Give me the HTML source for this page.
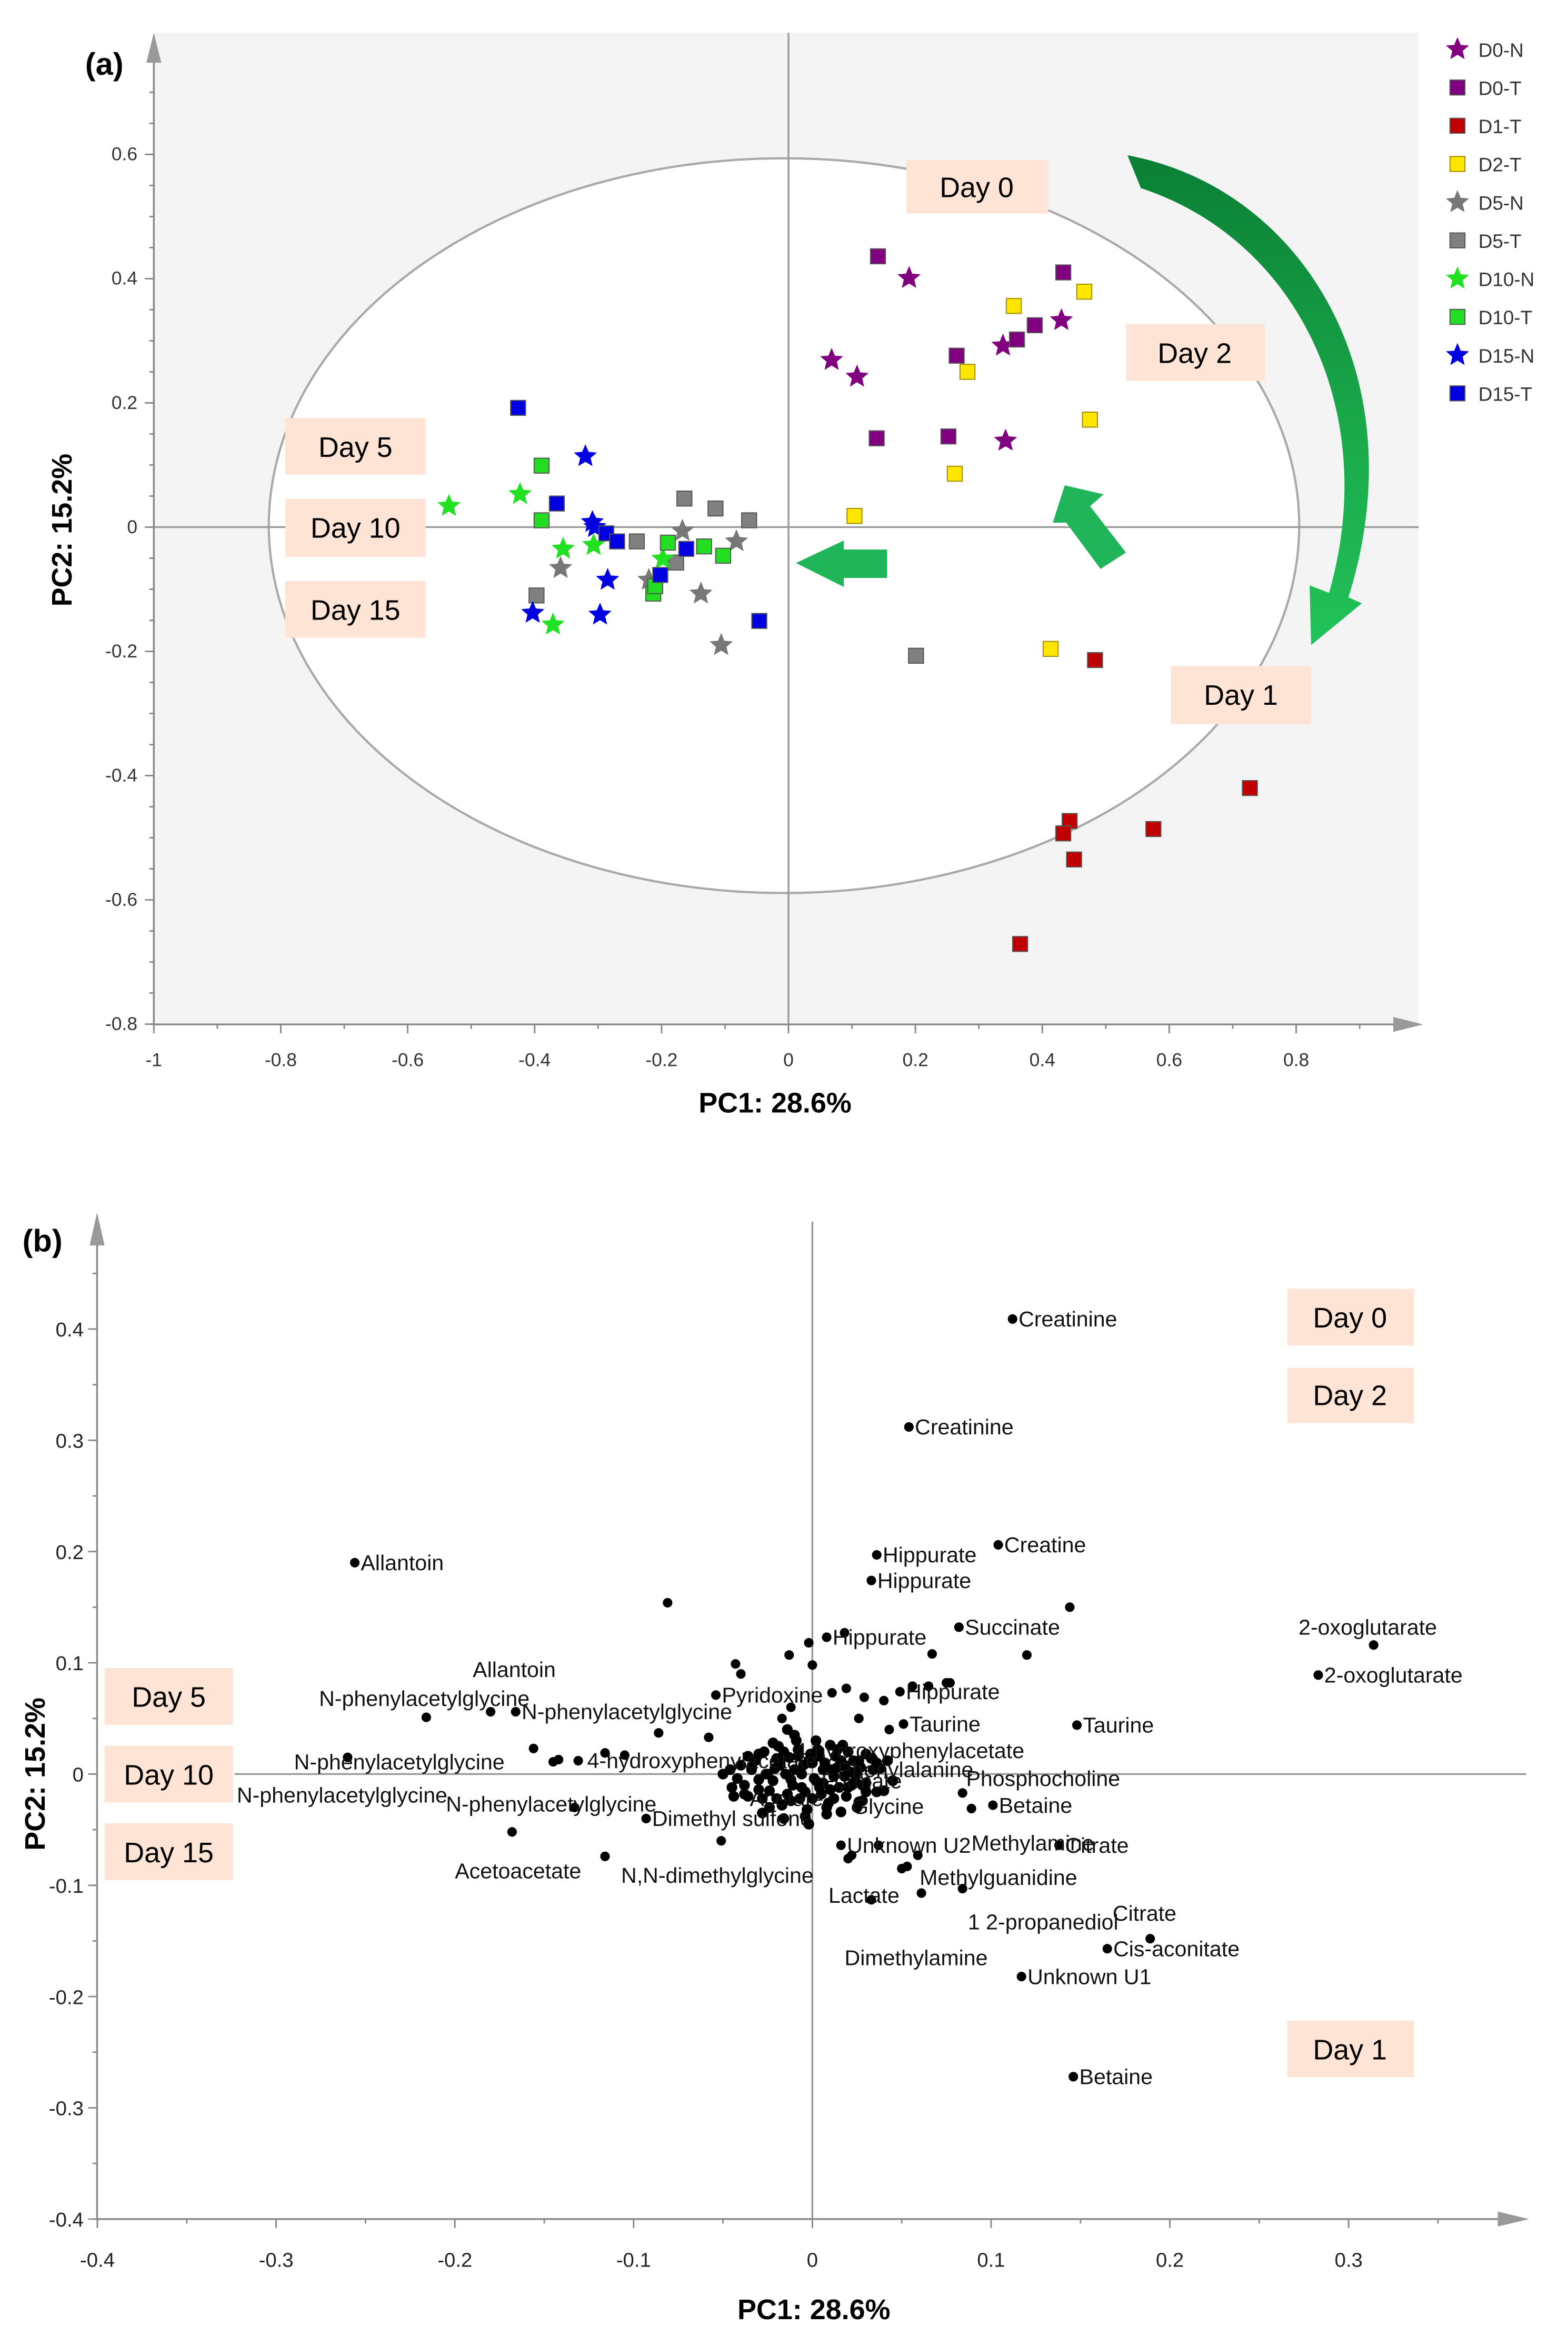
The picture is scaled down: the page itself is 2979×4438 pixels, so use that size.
<!DOCTYPE html>
<html><head><meta charset="utf-8"><style>
html,body{margin:0;padding:0;background:#fff}
svg{display:block}
text{font-family:"Liberation Sans",sans-serif}
</style></head><body>
<svg id="fig" xmlns="http://www.w3.org/2000/svg" width="2979" height="4438" viewBox="0 0 1050 1564.3">
<rect x="0" y="0" width="1050" height="1564.3" fill="#fff"/>
<g id="pa">
<rect x="103" y="22" width="847" height="664" fill="#f4f4f4"/>
<ellipse cx="525" cy="352" rx="345" ry="246" fill="#fff" stroke="#a9a9a9" stroke-width="1.5"/>
<g id="a-axes"></g>
<g id="a-pts"></g>
<g>
<rect x="607" y="107" width="95" height="36" fill="#fde4d5"/><text x="654" y="132" font-size="19" text-anchor="middle">Day 0</text>
<rect x="754" y="217" width="93" height="38" fill="#fde4d5"/><text x="800" y="243" font-size="19" text-anchor="middle">Day 2</text>
<rect x="784" y="446" width="94" height="39" fill="#fde4d5"/><text x="831" y="472" font-size="19" text-anchor="middle">Day 1</text>
<rect x="191" y="280" width="94" height="38" fill="#fde4d5"/><text x="238" y="306" font-size="19" text-anchor="middle">Day 5</text>
<rect x="191" y="334" width="94" height="39" fill="#fde4d5"/><text x="238" y="360" font-size="19" text-anchor="middle">Day 10</text>
<rect x="191" y="389" width="94" height="38" fill="#fde4d5"/><text x="238" y="415" font-size="19" text-anchor="middle">Day 15</text>
</g>
<defs><linearGradient id="cg" x1="0" y1="0" x2="0" y2="1"><stop offset="0" stop-color="#0a7f35"/><stop offset="0.55" stop-color="#1aa84a"/><stop offset="1" stop-color="#22c25a"/></linearGradient></defs>
<path fill="url(#cg)" d="M755,104 C870,125 950,250 903,400 L912,404 L878,432 L877,392 L890,397 C925,275 868,160 764,126 Z"/>
<polygon fill="#1fb558" points="533,377 565,362 565,368 594,368 594,387 565,387 565,393"/>
<polygon fill="#1fb558" points="713,325 739,331 730,339 754,370 737,381 714,350 705,350"/>
<text x="57" y="50" font-size="21" font-weight="bold">(a)</text>
<text x="519" y="745" font-size="19" font-weight="bold" text-anchor="middle">PC1: 28.6%</text>
<text x="0" y="0" font-size="19" font-weight="bold" text-anchor="middle" transform="translate(48,355) rotate(-90)">PC2: 15.2%</text>
<g id="legend"></g>
</g>
<g id="pb">
<g id="b-axes"></g>
<g id="b-pts"></g>
<g>
<rect x="862" y="863" width="85" height="38" fill="#fde4d5"/><text x="904" y="889" font-size="19" text-anchor="middle">Day 0</text>
<rect x="862" y="916" width="85" height="37" fill="#fde4d5"/><text x="904" y="941" font-size="19" text-anchor="middle">Day 2</text>
<rect x="862" y="1353" width="85" height="38" fill="#fde4d5"/><text x="904" y="1379" font-size="19" text-anchor="middle">Day 1</text>
<rect x="70" y="1117" width="86" height="38" fill="#fde4d5"/><text x="113" y="1143" font-size="19" text-anchor="middle">Day 5</text>
<rect x="70" y="1169" width="86" height="38" fill="#fde4d5"/><text x="113" y="1195" font-size="19" text-anchor="middle">Day 10</text>
<rect x="70" y="1221" width="86" height="38" fill="#fde4d5"/><text x="113" y="1247" font-size="19" text-anchor="middle">Day 15</text>
</g>
<text x="15" y="838" font-size="21" font-weight="bold">(b)</text>
<text x="545" y="1553" font-size="19" font-weight="bold" text-anchor="middle">PC1: 28.6%</text>
<text x="0" y="0" font-size="19" font-weight="bold" text-anchor="middle" transform="translate(30,1188) rotate(-90)">PC2: 15.2%</text>
</g>
</svg>
<script>
// ---------- Panel (a) data ----------
const groupNames = ["D0-N","D0-T","D1-T","D2-T","D5-N","D5-T","D10-N","D10-T","D15-N","D15-T"];
const groupColors = ["#800080","#800080","#c00000","#ffe600","#777777","#808080","#22e022","#22dd22","#0000e0","#0000e0"];
const groupShapes = ["star","square","square","square","star","square","star","square","star","square"];
const d0nX = [0.068,0.108,0.19,0.338,0.43,0.342];
const d0nY = [0.269,0.242,0.401,0.292,0.333,0.139];
const d0tX = [0.141,0.433,0.388,0.36,0.265,0.139,0.252];
const d0tY = [0.436,0.41,0.325,0.302,0.276,0.143,0.146];
const d1tX = [0.483,0.727,0.575,0.443,0.433,0.45,0.365];
const d1tY = [-0.214,-0.42,-0.486,-0.473,-0.493,-0.535,-0.671];
const d2tX = [0.355,0.466,0.282,0.475,0.262,0.104,0.413];
const d2tY = [0.356,0.379,0.25,0.173,0.086,0.018,-0.196];
const d5nX = [-0.167,-0.082,-0.138,-0.106,-0.359,-0.22];
const d5nY = [-0.006,-0.023,-0.107,-0.19,-0.066,-0.085];
const d5tX = [-0.164,-0.115,-0.062,-0.239,-0.177,-0.397,0.201];
const d5tY = [0.046,0.03,0.011,-0.023,-0.057,-0.11,-0.207];
const d10nX = [-0.535,-0.423,-0.355,-0.307,-0.371,-0.198];
const d10nY = [0.034,0.053,-0.035,-0.029,-0.157,-0.051];
const d10tX = [-0.389,-0.389,-0.19,-0.213,-0.21,-0.133,-0.103];
const d10tY = [0.099,0.011,-0.025,-0.107,-0.095,-0.031,-0.046];
const d15nX = [-0.32,-0.309,-0.285,-0.297,-0.403,-0.305];
const d15nY = [0.114,0.008,-0.085,-0.141,-0.138,0.0];
const d15tX = [-0.426,-0.365,-0.287,-0.27,-0.202,-0.161,-0.046];
const d15tY = [0.192,0.038,-0.01,-0.023,-0.077,-0.035,-0.151];
const aXTicks = [-1,-0.8,-0.6,-0.4,-0.2,0,0.2,0.4,0.6,0.8];
const aXTickLabels = ["-1","-0.8","-0.6","-0.4","-0.2","0","0.2","0.4","0.6","0.8"];
const aYTicks = [0.6,0.4,0.2,0,-0.2,-0.4,-0.6,-0.8];
const aYTickLabels = ["0.6","0.4","0.2","0","-0.2","-0.4","-0.6","-0.8"];

// ---------- Panel (b) data ----------
const labeledNames = ["Creatinine","Creatinine","Hippurate","Hippurate","Creatine","Succinate","Hippurate","2-oxoglutarate","Taurine","Hippurate","Taurine","Betaine","Citrate","Cis-aconitate","Unknown U1","Betaine","Allantoin","N-phenylacetylglycine","Dimethyl sulfone","Pyridoxine","Unknown U2"];
const labeledX = [0.112,0.054,0.036,0.033,0.104,0.082,0.008,0.283,0.148,0.049,0.051,0.101,0.138,0.165,0.117,0.146,-0.256,-0.166,-0.093,-0.054,0.016];
const labeledY = [0.409,0.312,0.197,0.174,0.206,0.132,0.123,0.089,0.044,0.074,0.045,-0.028,-0.064,-0.157,-0.182,-0.272,0.19,0.056,-0.04,0.071,-0.064];
const otherX = [0.314,0.189,-0.216,-0.26,0.144,0.12,-0.081,-0.18,-0.156,-0.133,-0.168,-0.116,-0.051,0.018,0.067,0.084,0.089,0.059,0.084,0.033,0.061,0.037,0.022,0.02,0.053,0.05,0.075,-0.145,-0.142,-0.131,-0.116,-0.105,-0.086,-0.058,-0.043,-0.04,-0.013,-0.002,0.0,-0.012,-0.017,0.011,0.019,0.029,0.04,0.056,0.065,0.077,0.026,0.043];
const otherY = [0.116,-0.148,0.051,0.015,0.15,0.107,0.154,0.056,0.023,-0.03,-0.052,-0.074,-0.06,0.127,0.108,-0.017,-0.031,-0.073,-0.103,-0.113,-0.107,-0.064,-0.073,-0.076,-0.083,-0.085,0.082,0.011,0.013,0.012,0.019,0.017,0.037,0.033,0.099,0.09,0.107,0.118,0.098,0.06,0.05,0.073,0.077,0.069,0.066,0.079,0.079,0.082,0.05,0.04];
const clusterX = [-0.05,-0.045,-0.04,-0.036,-0.032,-0.03,-0.027,-0.024,-0.021,-0.019,-0.017,-0.015,-0.013,-0.011,-0.009,-0.007,-0.005,-0.003,-0.001,0.001,0.003,0.005,0.007,0.009,0.011,0.013,0.015,0.017,0.019,0.021,0.023,0.025,0.027,0.03,0.033,0.036,-0.028,-0.022,-0.016,-0.01,-0.004,0.002,0.008,0.014,0.02,0.026,-0.034,-0.025,-0.018,-0.012,-0.006,0.0,0.006,0.012,0.018,0.024,0.03,-0.02,-0.008,0.004,0.016,0.028,-0.038,0.038,-0.014,0.01];
const clusterY = [0.0,-0.012,0.008,-0.02,0.012,-0.005,0.02,-0.015,0.005,0.025,-0.028,0.0,0.015,-0.01,0.03,-0.022,0.008,-0.032,0.018,-0.004,0.022,-0.018,0.01,-0.026,0.004,0.016,-0.012,0.026,-0.02,0.002,0.012,-0.03,0.006,-0.008,0.014,-0.016,-0.035,0.028,-0.04,0.035,-0.038,0.03,-0.036,0.022,0.02,-0.025,0.004,0.0,0.01,-0.005,0.0,0.01,-0.008,-0.002,0.008,0.0,0.018,-0.022,0.016,-0.012,-0.034,-0.01,-0.018,0.005,0.04,0.026];
const cluster2X = [-0.046,-0.042,-0.038,-0.034,-0.03,-0.026,-0.022,-0.018,-0.014,-0.01,-0.006,-0.002,0.002,0.006,0.01,0.014,0.018,0.022,0.026,0.03,0.034,-0.044,-0.036,-0.028,-0.02,-0.012,-0.004,0.004,0.012,0.02,0.028,0.036,-0.024,-0.016,-0.008,0.0,0.008,0.016,0.024,-0.03,-0.002,0.042,0.045,0.04];
const cluster2Y = [0.004,-0.004,-0.01,0.006,-0.014,0.0,-0.006,0.008,-0.018,0.004,-0.012,0.012,-0.006,0.004,-0.014,0.006,-0.002,-0.01,0.012,-0.016,0.004,-0.02,0.016,-0.022,0.014,-0.024,-0.016,0.016,-0.022,-0.012,-0.024,0.01,-0.03,0.02,0.022,-0.022,-0.03,0.012,-0.006,0.018,-0.045,0.012,-0.006,-0.015];
const freeLabels = ["Allantoin","N-phenylacetylglycine","N-phenylacetylglycine","N-phenylacetylglycine","N-phenylacetylglycine","Acetoacetate","N,N-dimethylglycine","4-hydroxyphenylacetate","4-hydroxyphenylacetate","Phenylalanine","Phosphocholine","Methylamine","Methylguanidine","1 2-propanediol","Lactate","Dimethylamine","Glycine","Acetate","Formate","2-oxoglutarate","Citrate"];
const freeX = [-0.19,-0.276,-0.29,-0.322,-0.205,-0.2,-0.107,-0.126,-0.01,0.014,0.086,0.089,0.06,0.087,0.009,0.018,0.022,-0.035,0.005,0.272,0.168];
const freeY = [0.094,0.068,0.011,-0.019,-0.027,-0.087,-0.091,0.012,0.021,0.004,-0.004,-0.062,-0.093,-0.133,-0.109,-0.165,-0.029,-0.022,-0.006,0.132,-0.125];
const bXTicks = [-0.4,-0.3,-0.2,-0.1,0,0.1,0.2,0.3];
const bXTickLabels = ["-0.4","-0.3","-0.2","-0.1","0","0.1","0.2","0.3"];
const bYTicks = [0.4,0.3,0.2,0.1,0,-0.1,-0.2,-0.3,-0.4];
const bYTickLabels = ["0.4","0.3","0.2","0.1","0","-0.1","-0.2","-0.3","-0.4"];

const NS = "http://www.w3.org/2000/svg";
function mk(tag, attrs, parent){const e=document.createElementNS(NS,tag);for(const k in attrs)e.setAttribute(k,attrs[k]);parent.appendChild(e);return e;}
const ax = v => 528 + v*425;
const ay = v => 353 - v*416;
const bx = v => 544 + v*1197;
const by = v => 1188 - v*745;

function starPts(cx,cy,r){let p=[];for(let i=0;i<10;i++){const a=-Math.PI/2+i*Math.PI/5;const rr=i%2?r*0.45:r;p.push((cx+rr*Math.cos(a)).toFixed(1)+","+(cy+rr*Math.sin(a)).toFixed(1));}return p.join(" ");}
function marker(shape,color,cx,cy,parent){
  let e;
  if(shape==="star"){e=mk("polygon",{points:starPts(cx,cy,7.5),fill:color,stroke:color,"stroke-width":0.5},parent);}
  else{const s=10;e=mk("rect",{x:cx-s/2,y:cy-s/2,width:s,height:s,fill:color,stroke:color==="#ffe600"?"#a08c00":"#555","stroke-width":0.7},parent);}
  return e;
}

const aAx=document.getElementById("a-axes");
mk("line",{x1:ax(0),y1:22,x2:ax(0),y2:686,stroke:"#999","stroke-width":1.2},aAx);
mk("line",{x1:103,y1:ay(0),x2:950,y2:ay(0),stroke:"#999","stroke-width":1.2},aAx);
mk("line",{x1:103,y1:40,x2:103,y2:686,stroke:"#888","stroke-width":1.2},aAx);
mk("polygon",{points:"98,42 103,22 108,42",fill:"#999"},aAx);
mk("line",{x1:103,y1:686,x2:935,y2:686,stroke:"#888","stroke-width":1.2},aAx);
mk("polygon",{points:"933,681 953,686 933,691",fill:"#999"},aAx);
for(let v=-0.8;v<=0.75;v+=0.05){const y=ay(v);mk("line",{x1:100,y1:y,x2:103,y2:y,stroke:"#888"},aAx);}
for(let v=-1;v<=0.95;v+=0.1){const x=ax(v);mk("line",{x1:x,y1:686,x2:x,y2:689,stroke:"#888"},aAx);}
aXTicks.forEach((v,i)=>{const x=ax(v);mk("line",{x1:x,y1:686,x2:x,y2:692,stroke:"#888"},aAx);const t=mk("text",{x:x,y:714,"font-size":12.5,fill:"#333","text-anchor":"middle"},aAx);t.textContent=aXTickLabels[i];

});
aYTicks.forEach((v,i)=>{const y=ay(v);mk("line",{x1:97,y1:y,x2:103,y2:y,stroke:"#888"},aAx);const t=mk("text",{x:92,y:y+4,"font-size":12.5,fill:"#333","text-anchor":"end"},aAx);t.textContent=aYTickLabels[i];

});

const aP=document.getElementById("a-pts");
const gx=[d0nX,d0tX,d1tX,d2tX,d5nX,d5tX,d10nX,d10tX,d15nX,d15tX];
const gy=[d0nY,d0tY,d1tY,d2tY,d5nY,d5tY,d10nY,d10tY,d15nY,d15tY];
gx.forEach((xs,g)=>{xs.forEach((v,i)=>{const m=marker(groupShapes[g],groupColors[g],ax(v),ay(gy[g][i]),aP);

});});

const lg=document.getElementById("legend");
groupNames.forEach((n,i)=>{const y=33+i*25.6;const m=marker(groupShapes[i],groupColors[i],976,y,lg);


const t=mk("text",{x:990,y:y+5,"font-size":13,fill:"#333"},lg);t.textContent=n;

});

const bAx=document.getElementById("b-axes");
mk("line",{x1:bx(0),y1:818,x2:bx(0),y2:1486,stroke:"#999","stroke-width":1.2},bAx);
mk("line",{x1:157,y1:by(0),x2:1022,y2:by(0),stroke:"#999","stroke-width":1.2},bAx);
mk("line",{x1:65,y1:830,x2:65,y2:1486,stroke:"#888","stroke-width":1.2},bAx);
mk("polygon",{points:"60,834 65,812 70,834",fill:"#999"},bAx);
mk("line",{x1:65,y1:1486,x2:1005,y2:1486,stroke:"#888","stroke-width":1.2},bAx);
mk("polygon",{points:"1003,1481 1024,1486 1003,1491",fill:"#999"},bAx);
for(let v=-0.4;v<=0.46;v+=0.05){const y=by(v);mk("line",{x1:62,y1:y,x2:65,y2:y,stroke:"#888"},bAx);}
for(let v=-0.4;v<=0.38;v+=0.05){const x=bx(v);mk("line",{x1:x,y1:1486,x2:x,y2:1489,stroke:"#888"},bAx);}
bXTicks.forEach((v,i)=>{const x=bx(v);mk("line",{x1:x,y1:1486,x2:x,y2:1492,stroke:"#888"},bAx);const t=mk("text",{x:x,y:1518,"font-size":13.5,fill:"#222","text-anchor":"middle"},bAx);t.textContent=bXTickLabels[i];

});
bYTicks.forEach((v,i)=>{const y=by(v);mk("line",{x1:59,y1:y,x2:65,y2:y,stroke:"#888"},bAx);const t=mk("text",{x:56,y:y+5,"font-size":13.5,fill:"#222","text-anchor":"end"},bAx);t.textContent=bYTickLabels[i];

});

const bP=document.getElementById("b-pts");
function dot(x,y,name,r){const c=mk("circle",{cx:bx(x),cy:by(y),r:r||3.2,fill:"#000"},bP);

}
clusterX.forEach((v,i)=>dot(v,clusterY[i],'loading-point',3.6));
cluster2X.forEach((v,i)=>dot(v,cluster2Y[i],'loading-point',3.6));
otherX.forEach((v,i)=>dot(v,otherY[i],'loading-point'));
labeledX.forEach((v,i)=>{dot(v,labeledY[i],'loading-point-'+labeledNames[i].toLowerCase().replace(/[^a-z0-9]+/g,'-'));
const t=mk("text",{x:bx(v)+4,y:by(labeledY[i])+5,"font-size":14.5,fill:"#111"},bP);t.textContent=labeledNames[i];

});
freeLabels.forEach((n,i)=>{const t=mk("text",{x:bx(freeX[i]),y:by(freeY[i])+5,"font-size":14.5,fill:"#111"},bP);t.textContent=n;

});
</script>
</body></html>
